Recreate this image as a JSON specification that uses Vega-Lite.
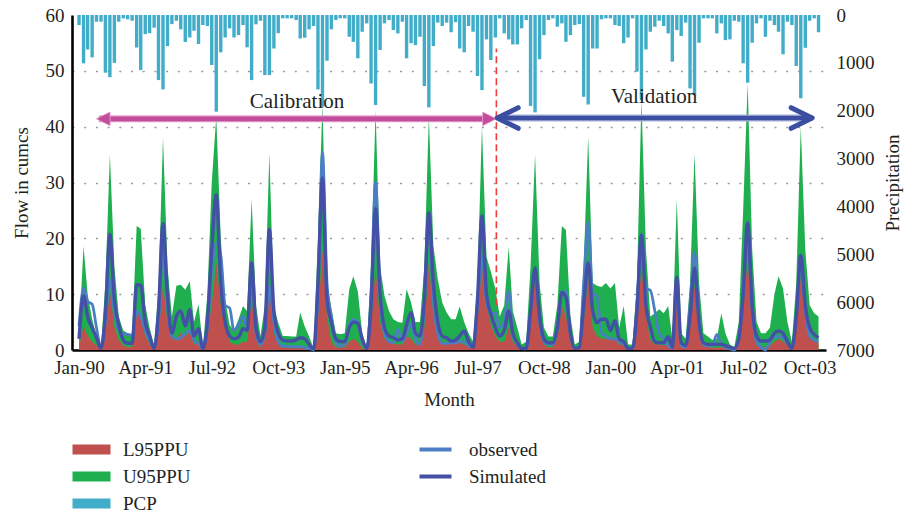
{
"$schema":"https://vega.github.io/schema/vega-lite/v6.json",
"width":754,"height":335,
"autosize":{"type":"none"},
"padding":{"left":72,"top":15,"right":81,"bottom":163},
"background":"white",
"config":{
 "view":{"stroke":null},
 "font":"Liberation Serif",
 "axis":{"labelFont":"Liberation Serif","titleFont":"Liberation Serif","labelFontSize":19,"titleFontSize":19,"titleFontWeight":"normal","labelColor":"#231f20","titleColor":"#231f20","ticks":false},
 "legend":{"labelFont":"Liberation Serif","labelFontSize":19,"labelColor":"#231f20","padding":0}
},
"datasets":{"m":[
{"d":"1990-01-15","L":0.5,"U":3,"O":4.3,"S":2,"P":210},
{"d":"1990-02-15","L":4.3,"U":18.6,"O":11.1,"S":9.7,"P":1010},
{"d":"1990-03-15","L":2.5,"U":10,"O":8.7,"S":6,"P":720},
{"d":"1990-04-15","L":1.5,"U":5.5,"O":8.2,"S":4,"P":885},
{"d":"1990-05-15","L":0.8,"U":2.5,"O":4,"S":2.2,"P":140},
{"d":"1990-06-15","L":0.1,"U":0.6,"O":0.3,"S":0.3,"P":140},
{"d":"1990-07-15","L":3.5,"U":12,"O":5,"S":6.5,"P":1205},
{"d":"1990-08-15","L":10.5,"U":35,"O":12.6,"S":20.7,"P":1300},
{"d":"1990-09-15","L":4,"U":15,"O":7,"S":9,"P":1000},
{"d":"1990-10-15","L":1.8,"U":6,"O":3.5,"S":4.5,"P":140},
{"d":"1990-11-15","L":0.8,"U":3.5,"O":2.9,"S":1.8,"P":70},
{"d":"1990-12-15","L":0.5,"U":3,"O":2.8,"S":1.2,"P":90},
{"d":"1991-01-15","L":0.5,"U":2.8,"O":2.6,"S":1.2,"P":120},
{"d":"1991-02-15","L":6.7,"U":22.2,"O":7,"S":11.7,"P":680},
{"d":"1991-03-15","L":6,"U":21.7,"O":6,"S":11.6,"P":1150},
{"d":"1991-04-15","L":2.5,"U":8,"O":3.5,"S":5,"P":400},
{"d":"1991-05-15","L":1,"U":4,"O":1.8,"S":2.5,"P":380},
{"d":"1991-06-15","L":0.1,"U":0.8,"O":0.3,"S":0.3,"P":265},
{"d":"1991-07-15","L":3.5,"U":11,"O":5,"S":7,"P":1360},
{"d":"1991-08-15","L":11.4,"U":38,"O":18,"S":22.6,"P":1555},
{"d":"1991-09-15","L":5,"U":15,"O":8,"S":9.5,"P":650},
{"d":"1991-10-15","L":2,"U":6,"O":2.5,"S":3,"P":190},
{"d":"1991-11-15","L":2,"U":11.5,"O":2,"S":6,"P":120},
{"d":"1991-12-15","L":3,"U":11.7,"O":2.2,"S":7,"P":300},
{"d":"1992-01-15","L":2.5,"U":10.8,"O":3,"S":4.3,"P":565},
{"d":"1992-02-15","L":3.2,"U":12.3,"O":3.5,"S":7.2,"P":470},
{"d":"1992-03-15","L":1,"U":5,"O":1.8,"S":2.5,"P":330},
{"d":"1992-04-15","L":1.5,"U":8.2,"O":1.2,"S":3.8,"P":605},
{"d":"1992-05-15","L":0,"U":0.5,"O":0.2,"S":0.3,"P":210},
{"d":"1992-06-15","L":3,"U":10,"O":4,"S":5,"P":230},
{"d":"1992-07-15","L":8,"U":30,"O":14,"S":18,"P":1045},
{"d":"1992-08-15","L":15.6,"U":41.8,"O":19.2,"S":27.8,"P":2020},
{"d":"1992-09-15","L":8,"U":20,"O":17,"S":12,"P":780},
{"d":"1992-10-15","L":4,"U":9,"O":8,"S":5,"P":470},
{"d":"1992-11-15","L":1.5,"U":4.5,"O":7.5,"S":2.5,"P":280},
{"d":"1992-12-15","L":1,"U":3.5,"O":3.5,"S":2,"P":470},
{"d":"1993-01-15","L":1,"U":5.5,"O":4.5,"S":2.3,"P":420},
{"d":"1993-02-15","L":1.5,"U":7.9,"O":6,"S":3.8,"P":210},
{"d":"1993-03-15","L":1.5,"U":7,"O":4,"S":3.5,"P":675},
{"d":"1993-04-15","L":9,"U":27,"O":15,"S":15.6,"P":1360},
{"d":"1993-05-15","L":2,"U":8,"O":3,"S":4,"P":195},
{"d":"1993-06-15","L":0.5,"U":2.5,"O":1,"S":1.5,"P":120},
{"d":"1993-07-15","L":2.5,"U":8,"O":3,"S":4,"P":1255},
{"d":"1993-08-15","L":11.4,"U":35.3,"O":11.5,"S":21.6,"P":1255},
{"d":"1993-09-15","L":3,"U":7.9,"O":5,"S":7,"P":700},
{"d":"1993-10-15","L":1,"U":4.9,"O":1.5,"S":3,"P":380},
{"d":"1993-11-15","L":0.4,"U":2.5,"O":0.7,"S":1.8,"P":70},
{"d":"1993-12-15","L":0.4,"U":2.5,"O":0.7,"S":1.6,"P":70},
{"d":"1994-01-15","L":0.3,"U":2.4,"O":0.6,"S":1.6,"P":70},
{"d":"1994-02-15","L":0.3,"U":2.4,"O":0.6,"S":1.8,"P":105},
{"d":"1994-03-15","L":0.5,"U":6.7,"O":0.6,"S":2.2,"P":490},
{"d":"1994-04-15","L":0.3,"U":4.2,"O":0.4,"S":2,"P":475},
{"d":"1994-05-15","L":0.2,"U":2.4,"O":0.3,"S":1,"P":300},
{"d":"1994-06-15","L":0,"U":0.3,"O":0,"S":0.2,"P":230},
{"d":"1994-07-15","L":6,"U":20,"O":10,"S":12,"P":1555},
{"d":"1994-08-15","L":18,"U":44,"O":35.4,"S":30.8,"P":1920},
{"d":"1994-09-15","L":6,"U":12,"O":12,"S":9,"P":955},
{"d":"1994-10-15","L":1.5,"U":7.5,"O":6,"S":5,"P":300},
{"d":"1994-11-15","L":0.5,"U":3,"O":1.5,"S":2,"P":105},
{"d":"1994-12-15","L":0.4,"U":2.8,"O":0.7,"S":1.5,"P":70},
{"d":"1995-01-15","L":0.5,"U":3,"O":1,"S":1.5,"P":70},
{"d":"1995-02-15","L":1.5,"U":10.9,"O":4.5,"S":4,"P":455},
{"d":"1995-03-15","L":2,"U":13.2,"O":5.5,"S":5,"P":560},
{"d":"1995-04-15","L":1.5,"U":10.5,"O":5,"S":4.8,"P":905},
{"d":"1995-05-15","L":0.3,"U":3,"O":1.5,"S":2,"P":350},
{"d":"1995-06-15","L":0,"U":0.5,"O":0.3,"S":0.3,"P":175},
{"d":"1995-07-15","L":5,"U":15,"O":10,"S":8,"P":1430},
{"d":"1995-08-15","L":14.4,"U":43,"O":30,"S":25.3,"P":1880},
{"d":"1995-09-15","L":5,"U":15,"O":10,"S":10,"P":730},
{"d":"1995-10-15","L":2,"U":9.7,"O":3,"S":4,"P":175},
{"d":"1995-11-15","L":1.5,"U":7,"O":1.5,"S":2.5,"P":105},
{"d":"1995-12-15","L":1.2,"U":5.5,"O":1.3,"S":2.2,"P":315},
{"d":"1996-01-15","L":1,"U":5,"O":3.7,"S":1.8,"P":385},
{"d":"1996-02-15","L":1,"U":4.9,"O":1.5,"S":2,"P":140},
{"d":"1996-03-15","L":2.5,"U":10.9,"O":3,"S":4.5,"P":905},
{"d":"1996-04-15","L":2,"U":8.5,"O":4.5,"S":6.7,"P":590},
{"d":"1996-05-15","L":1,"U":5,"O":2,"S":3,"P":630},
{"d":"1996-06-15","L":1,"U":5,"O":1,"S":2.5,"P":455},
{"d":"1996-07-15","L":4,"U":15,"O":8,"S":9,"P":1485},
{"d":"1996-08-15","L":15.6,"U":41.8,"O":23,"S":24.6,"P":1930},
{"d":"1996-09-15","L":6,"U":18.7,"O":9,"S":12,"P":650},
{"d":"1996-10-15","L":2.5,"U":12.7,"O":3,"S":5,"P":160},
{"d":"1996-11-15","L":1.5,"U":8.5,"O":1.2,"S":2.5,"P":230},
{"d":"1996-12-15","L":1.2,"U":6.7,"O":1.2,"S":2.2,"P":160},
{"d":"1997-01-15","L":1.2,"U":5.5,"O":1.3,"S":1.6,"P":360},
{"d":"1997-02-15","L":1.2,"U":5.5,"O":1.3,"S":1.8,"P":150},
{"d":"1997-03-15","L":1.3,"U":7.8,"O":1.5,"S":2.5,"P":700},
{"d":"1997-04-15","L":1,"U":5,"O":1.5,"S":3.4,"P":780},
{"d":"1997-05-15","L":0.6,"U":3,"O":0.8,"S":1.5,"P":230},
{"d":"1997-06-15","L":0.3,"U":1.5,"O":0.5,"S":0.5,"P":350},
{"d":"1997-07-15","L":5,"U":12,"O":8,"S":9,"P":1275},
{"d":"1997-08-15","L":15.6,"U":40,"O":16.8,"S":24,"P":1570},
{"d":"1997-09-15","L":8,"U":16.7,"O":8.5,"S":10,"P":510},
{"d":"1997-10-15","L":4.5,"U":14,"O":6.6,"S":6.5,"P":940},
{"d":"1997-11-15","L":2.5,"U":11,"O":6.6,"S":4,"P":470},
{"d":"1997-12-15","L":1.5,"U":6,"O":4,"S":2.5,"P":70},
{"d":"1998-01-15","L":1.5,"U":8,"O":5,"S":3.5,"P":385},
{"d":"1998-02-15","L":4,"U":18.5,"O":10.6,"S":7,"P":510},
{"d":"1998-03-15","L":1.5,"U":7,"O":3,"S":3,"P":615},
{"d":"1998-04-15","L":0.5,"U":4,"O":1,"S":1.3,"P":615},
{"d":"1998-05-15","L":0.1,"U":1,"O":0.3,"S":0.3,"P":280},
{"d":"1998-06-15","L":0.3,"U":1.5,"O":0.2,"S":0.3,"P":105},
{"d":"1998-07-15","L":5,"U":15,"O":7,"S":7,"P":1900},
{"d":"1998-08-15","L":12.7,"U":35,"O":14.3,"S":14.7,"P":2035},
{"d":"1998-09-15","L":4,"U":12,"O":5,"S":6,"P":925},
{"d":"1998-10-15","L":1,"U":4,"O":1.5,"S":2,"P":420},
{"d":"1998-11-15","L":0.5,"U":2.4,"O":1,"S":1.3,"P":105},
{"d":"1998-12-15","L":0.5,"U":2.4,"O":1,"S":1.3,"P":70},
{"d":"1999-01-15","L":2,"U":8,"O":4,"S":4,"P":245},
{"d":"1999-02-15","L":7.8,"U":22.2,"O":10.3,"S":10.3,"P":175},
{"d":"1999-03-15","L":6,"U":21.5,"O":10.5,"S":9.5,"P":560},
{"d":"1999-04-15","L":1.5,"U":6,"O":3,"S":3,"P":420},
{"d":"1999-05-15","L":0.2,"U":1,"O":0.3,"S":0.3,"P":210},
{"d":"1999-06-15","L":0.3,"U":1.5,"O":0.5,"S":0.5,"P":190},
{"d":"1999-07-15","L":5,"U":15,"O":12,"S":8,"P":1710},
{"d":"1999-08-15","L":12.7,"U":38.3,"O":23,"S":15.6,"P":1870},
{"d":"1999-09-15","L":4,"U":12,"O":10,"S":7,"P":700},
{"d":"1999-10-15","L":2.5,"U":11.5,"O":9.7,"S":4.9,"P":700},
{"d":"1999-11-15","L":2,"U":11.3,"O":3,"S":5.5,"P":90},
{"d":"1999-12-15","L":2,"U":12,"O":2.5,"S":5.5,"P":70},
{"d":"2000-01-15","L":2,"U":11,"O":2,"S":3.5,"P":70},
{"d":"2000-02-15","L":2,"U":12,"O":2,"S":5.2,"P":210},
{"d":"2000-03-15","L":1,"U":4,"O":1.5,"S":2,"P":230},
{"d":"2000-04-15","L":1,"U":7.9,"O":1,"S":1.5,"P":590},
{"d":"2000-05-15","L":0.2,"U":1,"O":0.3,"S":0.3,"P":470},
{"d":"2000-06-15","L":0.2,"U":1,"O":0.3,"S":0.3,"P":70},
{"d":"2000-07-15","L":5,"U":12,"O":8,"S":7,"P":1185},
{"d":"2000-08-15","L":15,"U":44.8,"O":20.7,"S":20.6,"P":1780},
{"d":"2000-09-15","L":6,"U":18,"O":11,"S":8,"P":720},
{"d":"2000-10-15","L":1.8,"U":6,"O":10.7,"S":4.2,"P":350},
{"d":"2000-11-15","L":1,"U":6.6,"O":7,"S":1.5,"P":245},
{"d":"2000-12-15","L":1,"U":7.3,"O":3,"S":1.3,"P":120},
{"d":"2001-01-15","L":0.8,"U":6.6,"O":2,"S":1.3,"P":230},
{"d":"2001-02-15","L":1,"U":7.9,"O":0.8,"S":2.4,"P":385},
{"d":"2001-03-15","L":0.3,"U":2,"O":0.3,"S":0.5,"P":975},
{"d":"2001-04-15","L":10.2,"U":27,"O":11,"S":13,"P":315},
{"d":"2001-05-15","L":0.5,"U":3,"O":0.8,"S":1.3,"P":440},
{"d":"2001-06-15","L":0.3,"U":2,"O":0.5,"S":0.8,"P":160},
{"d":"2001-07-15","L":4,"U":12,"O":8,"S":6,"P":1535},
{"d":"2001-08-15","L":11.4,"U":35.2,"O":17.6,"S":14.7,"P":1675},
{"d":"2001-09-15","L":3,"U":12,"O":5,"S":5,"P":580},
{"d":"2001-10-15","L":0.8,"U":3,"O":1,"S":1.3,"P":70},
{"d":"2001-11-15","L":0.5,"U":2.4,"O":0.8,"S":1,"P":70},
{"d":"2001-12-15","L":0.4,"U":1.8,"O":0.8,"S":1,"P":70},
{"d":"2002-01-15","L":0.4,"U":2,"O":2.8,"S":1,"P":385},
{"d":"2002-02-15","L":0.5,"U":6.6,"O":1,"S":1,"P":175},
{"d":"2002-03-15","L":0.3,"U":3,"O":0.5,"S":0.8,"P":525},
{"d":"2002-04-15","L":0.1,"U":1,"O":0.2,"S":0.5,"P":510},
{"d":"2002-05-15","L":0,"U":0.5,"O":0,"S":0.3,"P":120},
{"d":"2002-06-15","L":1.5,"U":5,"O":2,"S":2,"P":140},
{"d":"2002-07-15","L":8,"U":25,"O":10,"S":10,"P":1010},
{"d":"2002-08-15","L":16,"U":47.8,"O":21,"S":22.7,"P":1415},
{"d":"2002-09-15","L":5,"U":18,"O":7,"S":8,"P":580},
{"d":"2002-10-15","L":1,"U":5,"O":1.5,"S":2.5,"P":175},
{"d":"2002-11-15","L":0.5,"U":3,"O":0.5,"S":1.6,"P":70},
{"d":"2002-12-15","L":0.5,"U":3,"O":0,"S":1.6,"P":455},
{"d":"2003-01-15","L":0.8,"U":4,"O":1.5,"S":1.8,"P":120},
{"d":"2003-02-15","L":1.5,"U":10,"O":2.4,"S":3,"P":210},
{"d":"2003-03-15","L":2,"U":13.2,"O":2.4,"S":3.4,"P":350},
{"d":"2003-04-15","L":1.5,"U":11,"O":2.2,"S":3,"P":820},
{"d":"2003-05-15","L":1,"U":5,"O":1.2,"S":1.5,"P":140},
{"d":"2003-06-15","L":0.3,"U":1.5,"O":0.3,"S":0.3,"P":210},
{"d":"2003-07-15","L":4,"U":12,"O":6,"S":6,"P":1065},
{"d":"2003-08-15","L":13,"U":40,"O":15.5,"S":17,"P":1740},
{"d":"2003-09-15","L":6,"U":18,"O":7,"S":8,"P":685},
{"d":"2003-10-15","L":2,"U":8,"O":2.5,"S":4,"P":120},
{"d":"2003-11-15","L":1.5,"U":6.6,"O":1.8,"S":2.8,"P":70},
{"d":"2003-12-15","L":1.3,"U":6,"O":1.6,"S":2.2,"P":360}
]},
"encoding":{"x":{"field":"d","type":"temporal",
  "scale":{"type":"utc","domain":[{"year":1990,"month":1,"date":1,"utc":true},{"year":2004,"month":1,"date":1,"utc":true}],"nice":false},
  "axis":{"values":[
   {"year":1990,"month":1,"date":15,"utc":true},{"year":1991,"month":4,"date":15,"utc":true},{"year":1992,"month":7,"date":15,"utc":true},{"year":1993,"month":10,"date":15,"utc":true},
   {"year":1995,"month":1,"date":15,"utc":true},{"year":1996,"month":4,"date":15,"utc":true},{"year":1997,"month":7,"date":15,"utc":true},{"year":1998,"month":10,"date":15,"utc":true},
   {"year":2000,"month":1,"date":15,"utc":true},{"year":2001,"month":4,"date":15,"utc":true},{"year":2002,"month":7,"date":15,"utc":true},{"year":2003,"month":10,"date":15,"utc":true}],
   "labelExpr":"utcFormat(datum.value, '%b-%y')","domainColor":"#000","domainWidth":2.6,"labelPadding":8,"titlePadding":13,"grid":false,"labelOverlap":false,"labelFlush":false,"title":"Month"}}},
"layer":[
 {"data":{"name":"m"},"layer":[
  {"mark":{"type":"area","interpolate":"linear"},
   "encoding":{"y":{"field":"U","type":"quantitative","scale":{"domain":[0,60],"nice":false},
     "axis":{"orient":"left","values":[0,10,20,30,40,50,60],"grid":true,"gridDash":[2,9.7],"gridColor":"#9a9a9a","gridWidth":1.6,
       "gridOpacity":{"condition":{"test":"datum.value==0||datum.value==60","value":0},"value":1},
       "domainColor":"#000","domainWidth":2.6,"labelPadding":8,"title":"Flow in cumcs","titlePadding":14}},
    "color":{"datum":"U95PPU","type":"nominal","scale":{"domain":["L95PPU","U95PPU","PCP"],"range":["#C0504D","#1FAF4F","#41ADC9"]},
     "legend":{"title":null,"orient":"none","legendX":10,"legendY":425,"direction":"vertical","symbolType":"M-3.8,-1H3.8V1H-3.8Z","symbolSize":100,"symbolStrokeWidth":0,"labelOffset":22,"rowPadding":7}}}},
  {"mark":{"type":"area","interpolate":"linear"},
   "encoding":{"y":{"field":"L","type":"quantitative","scale":{"domain":[0,60],"nice":false}},
    "color":{"datum":"L95PPU","type":"nominal","scale":{"domain":["L95PPU","U95PPU","PCP"],"range":["#C0504D","#1FAF4F","#41ADC9"]}}}}
 ]},
 {"data":{"name":"m"},"mark":{"type":"bar","size":3.4},
  "encoding":{"y":{"field":"P","type":"quantitative","scale":{"domain":[0,7000],"reverse":true,"nice":false},
    "axis":{"orient":"right","values":[0,1000,2000,3000,4000,5000,6000,7000],"format":"d","domain":false,"grid":false,"labelPadding":10,"title":"Precipitation","titleAngle":270,"titleBaseline":"top","titlePadding":9}},
   "color":{"datum":"PCP","type":"nominal","scale":{"domain":["L95PPU","U95PPU","PCP"],"range":["#C0504D","#1FAF4F","#41ADC9"]}}}},
 {"layer":[
  {"data":{"name":"m"},"mark":{"type":"line","interpolate":"monotone","strokeWidth":2.8},
   "encoding":{"y":{"field":"O","type":"quantitative","scale":{"domain":[0,60],"nice":false},"axis":null},
    "stroke":{"datum":"observed","type":"nominal","scale":{"domain":["observed","Simulated"],"range":["#4B7EC3","#4350A5"]},
     "legend":{"title":null,"orient":"none","legendX":354,"legendY":425,"direction":"vertical","symbolType":"M-3.2,0H3.2","symbolSize":100,"symbolStrokeWidth":4,"labelOffset":24,"rowPadding":7}}}},
  {"data":{"name":"m"},"mark":{"type":"line","interpolate":"monotone","strokeWidth":3.4},
   "encoding":{"y":{"field":"S","type":"quantitative","scale":{"domain":[0,60],"nice":false},"axis":null},
    "stroke":{"datum":"Simulated","type":"nominal","scale":{"domain":["observed","Simulated"],"range":["#4B7EC3","#4350A5"]}}}},
  {"data":{"values":[{"d":"1997-11-22","y":8,"y2":54}]},
   "mark":{"type":"rule","color":"#F03C3C","strokeDash":[7,4],"strokeWidth":1.6},
   "encoding":{"y":{"field":"y","type":"quantitative","scale":{"domain":[0,60],"nice":false},"axis":null},"y2":{"field":"y2"}}},
  {"data":{"values":[{"d":"1990-06-01","d2":"1997-10-16","y":41.4}]},
   "layer":[{"mark":{"type":"rule","color":"#E2A3CE","strokeWidth":7}},{"mark":{"type":"rule","color":"#C44A9B","strokeWidth":4.6}}],
   "encoding":{"x2":{"field":"d2"},"y":{"field":"y","type":"quantitative","scale":{"domain":[0,60],"nice":false},"axis":null}}},
  {"data":{"values":[{"d":"1990-06-30","y":41.4}]},
   "mark":{"type":"point","shape":"M-1,0L1,-1L1,1Z","size":188,"filled":true,"fill":"#C44A9B","stroke":"#E2A3CE","strokeWidth":0.8,"opacity":1},
   "encoding":{"y":{"field":"y","type":"quantitative","scale":{"domain":[0,60],"nice":false},"axis":null}}},
  {"data":{"values":[{"d":"1997-10-06","y":41.4}]},
   "mark":{"type":"point","shape":"M1,0L-1,-1L-1,1Z","size":188,"filled":true,"fill":"#C44A9B","stroke":"#E2A3CE","strokeWidth":0.8,"opacity":1},
   "encoding":{"y":{"field":"y","type":"quantitative","scale":{"domain":[0,60],"nice":false},"axis":null}}},
  {"data":{"values":[{"d":"1997-12-13","d2":"2003-10-13","y":41.55}]},
   "layer":[{"mark":{"type":"rule","color":"#A9B1DA","strokeWidth":7}},{"mark":{"type":"rule","color":"#3B4EA1","strokeWidth":4.6}}],
   "encoding":{"x2":{"field":"d2"},"y":{"field":"y","type":"quantitative","scale":{"domain":[0,60],"nice":false},"axis":null}}},
  {"data":{"values":[{"d":"1998-04-21","y":41.55}]},
   "mark":{"type":"point","shape":"M0,-0.49L-1,0L0,0.49","size":1764,"filled":false,"stroke":"#3B4EA1","strokeWidth":5,"strokeCap":"round","strokeJoin":"round","opacity":1},
   "encoding":{"y":{"field":"y","type":"quantitative","scale":{"domain":[0,60],"nice":false},"axis":null}}},
  {"data":{"values":[{"d":"2003-06-10","y":41.55}]},
   "mark":{"type":"point","shape":"M0,-0.49L1,0L0,0.49","size":1764,"filled":false,"stroke":"#3B4EA1","strokeWidth":5,"strokeCap":"round","strokeJoin":"round","opacity":1},
   "encoding":{"y":{"field":"y","type":"quantitative","scale":{"domain":[0,60],"nice":false},"axis":null}}},
  {"data":{"values":[{"d":"1994-02-21","y":44.4,"t":"Calibration"},{"d":"2000-11-10","y":45.3,"t":"Validation"}]},
   "mark":{"type":"text","font":"Liberation Serif","fontSize":21,"color":"#231f20","baseline":"middle","align":"center"},
   "encoding":{"text":{"field":"t"},"y":{"field":"y","type":"quantitative","scale":{"domain":[0,60],"nice":false},"axis":null}}}
 ]}
],
"resolve":{"scale":{"y":"independent"},"axis":{"y":"independent"}}
}
